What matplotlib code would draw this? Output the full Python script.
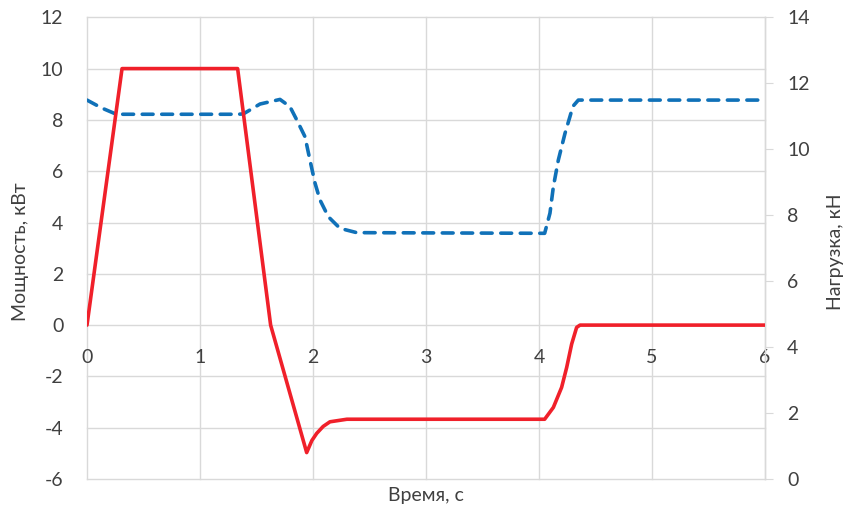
import matplotlib
matplotlib.use("Agg")
import matplotlib.pyplot as plt

# Power curve (left axis), time in seconds
power_t = [0, 0.31, 1.333, 1.625, 1.944, 1.99, 2.033, 2.09, 2.15,
           2.30, 4.05, 4.127, 4.20, 4.245, 4.289, 4.333, 4.363, 6.0]
power_kw = [0, 10, 10, 0, -4.97, -4.5, -4.22, -3.95, -3.77,
            -3.67, -3.67, -3.21, -2.43, -1.65, -0.74, -0.09, 0, 0]

# Load curve (right axis)
load_t = [0, 0.13, 0.26, 1.333, 1.383, 1.531, 1.708, 1.796, 1.856, 1.929, 1.973,
          2.018, 2.062, 2.136, 2.239, 2.387, 4.05, 4.097, 4.127, 4.171, 4.23,
          4.274, 4.30, 4.348, 6.0]
load_kn = [11.49, 11.25, 11.06, 11.06, 11.07, 11.37, 11.51, 11.29, 10.89, 10.38, 9.67,
           8.97, 8.46, 7.95, 7.60, 7.47, 7.45, 8.06, 8.86, 9.67, 10.48,
           10.99, 11.3, 11.49, 11.49]

x_ticks = [0, 1, 2, 3, 4, 5, 6]
left_ticks = [-6, -4, -2, 0, 2, 4, 6, 8, 10, 12]
right_ticks = [0, 2, 4, 6, 8, 10, 12, 14]

RED = "#F0202A"
BLUE = "#1071B8"
GRID = "#D9D9D9"
TEXT = "#404040"
FONT = "Lato"

plt.rcParams["font.family"] = [FONT, "DejaVu Sans"]
plt.rcParams["axes.unicode_minus"] = False

W, H = 843, 511
fig = plt.figure(figsize=(W / 100, H / 100), dpi=100)
L, R, T, B = 87, 765, 17.3, 479
ax = fig.add_axes([L / W, (H - B) / H, (R - L) / W, (B - T) / H])

ax.set_xlim(0, 6)
ax.set_ylim(-6, 12)
ax.set_xticks(x_ticks)
ax.set_yticks(left_ticks)
ax.grid(True, color=GRID, linewidth=1.0, clip_on=False)
ax.set_axisbelow(True)
for s in ax.spines.values():
    s.set_visible(False)
ax.spines["bottom"].set_position(("data", 0))
ax.tick_params(axis="x", length=0, pad=17, labelsize=14, labelcolor=TEXT)
ax.tick_params(axis="y", length=0, pad=17, labelsize=14, labelcolor=TEXT)

# Right axis with the load curve
ax2 = ax.twinx()
ax2.set_ylim(0, 14)
ax2.set_yticks(right_ticks)
for name, s in ax2.spines.items():
    s.set_visible(name == "right")
ax2.spines["right"].set_color(GRID)
ax2.spines["right"].set_linewidth(1.0)
ax2.tick_params(axis="y", direction="out", length=6, width=0.8, color=GRID,
                pad=10, labelsize=14, labelcolor=TEXT)
ax2.plot(load_t, load_kn, color=BLUE, linewidth=2.6,
         linestyle=(0, (3.0, 2.4)), dash_capstyle="round", solid_capstyle="round",
         dash_joinstyle="round")

# Power curve on top, drawn against the left scale
ax3 = ax.twinx()
ax3.set_ylim(ax.get_ylim())
ax3.axis("off")
ax3.plot(power_t, power_kw, color=RED, linewidth=2.6, solid_joinstyle="round",
         solid_capstyle="round")

fig.text(21 / W, 1 - 252 / H, "Мощность, кВт", rotation=90, ha="center", va="center",
         fontsize=14, color=TEXT)
fig.text(835 / W, 1 - 252 / H, "Нагрузка, кН", rotation=90, ha="center", va="center",
         fontsize=14, color=TEXT)
fig.text(426 / W, 1 - 496 / H, "Время, с", ha="center", va="center",
         fontsize=14, color=TEXT)

fig.savefig("out.png", dpi=100, facecolor="white")
